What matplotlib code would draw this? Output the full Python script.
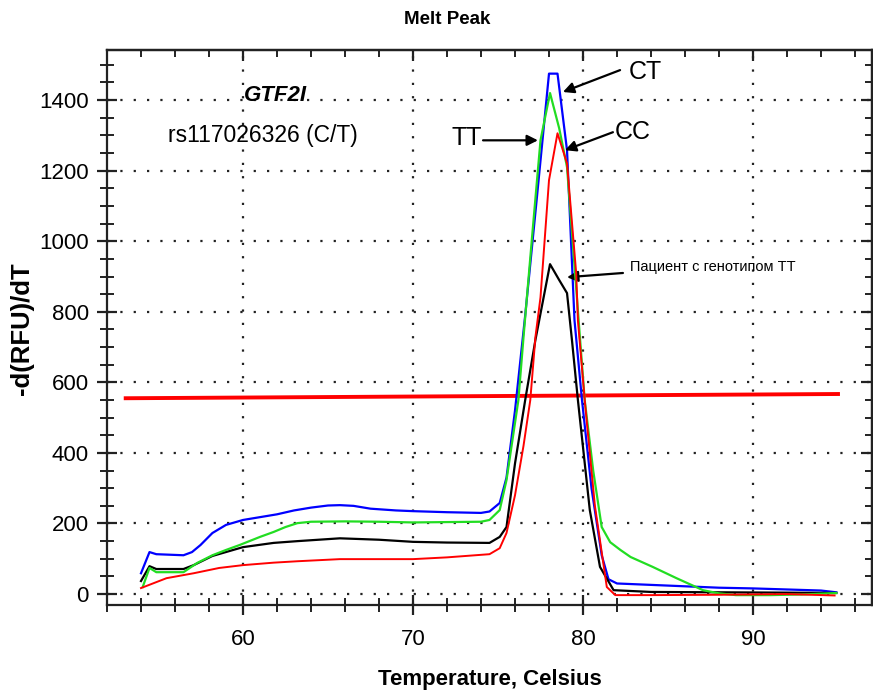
import matplotlib
matplotlib.use("Agg")
import matplotlib.pyplot as plt

plt.rcParams['font.family'] = ['Liberation Sans', 'DejaVu Sans']

# --- data ---
ct_t = [54.0, 54.5, 54.9, 56.5, 57.0, 57.5, 58.2, 59.0, 60.0, 61.0, 62.0, 63.0, 64.0, 65.0, 65.7,
        66.5, 67.5, 69.0, 70.0, 72.0, 74.0, 74.5, 75.1, 75.5, 76.0, 76.6, 77.3, 78.0, 78.5, 79.06,
        79.5, 79.94, 80.5, 81.1, 81.5, 82.0, 84.0, 86.0, 88.0, 90.0, 92.0, 94.0, 94.9]
ct_v = [59, 119, 113, 110, 119, 139, 173, 196, 210, 218, 226, 237, 245, 251, 252,
        250, 242, 237, 235, 232, 230, 234, 258, 330, 520, 790, 1130, 1475, 1475, 1258,
        776, 550, 300, 110, 42, 30, 26, 22, 18, 16, 13, 10, 5]

tt_t = [54.1, 54.5, 54.9, 56.5, 57.3, 58.2, 59.0, 59.8, 61.0, 61.8, 62.5, 63.2, 64.0, 66.0, 68.0,
        70.0, 72.0, 74.0, 74.5, 75.1, 75.5, 76.2, 76.5, 77.0, 77.5, 78.06, 78.6, 79.06, 79.8, 80.1,
        80.6, 81.1, 81.6, 82.2, 82.8, 84.1, 85.5, 87.06, 88.0, 89.0, 91.0, 93.0, 94.9]
tt_v = [20, 74, 62, 62, 88, 110, 125, 139, 162, 176, 190, 201, 205, 206, 205,
        203, 204, 205, 210, 238, 323, 550, 728, 1010, 1286, 1420, 1320, 1210, 740, 550,
        350, 190, 147, 125, 105, 77, 45, 11, 2, -3, -3, -1, 3]

cc_t = [54.0, 55.5, 57.1, 58.6, 60.0, 61.8, 63.2, 65.7, 68.0, 70.0, 72.0, 74.5, 75.1, 75.5, 76.0,
        76.5, 76.9, 77.2, 77.5, 78.0, 78.5, 79.06, 79.6, 79.7, 80.1, 80.7, 81.4, 81.9, 84.0, 88.0,
        92.0, 94.8]
cc_v = [17, 45, 59, 74, 82, 89, 93, 99, 99, 99, 104, 113, 130, 173, 280,
        420, 550, 728, 841, 1173, 1306, 1221, 909, 776, 550, 250, 20, -3, -3, -2,
        0, -4]

pt_t = [54.0, 54.5, 54.9, 56.5, 57.1, 58.2, 60.0, 61.8, 63.2, 65.7, 68.0, 70.0, 72.0, 74.5, 75.1,
        75.5, 76.0, 76.6, 77.2, 78.06, 78.6, 79.06, 79.35, 79.7, 80.4, 81.0, 81.8, 84.0, 88.0, 92.0,
        94.9]
pt_v = [37, 79, 71, 71, 82, 108, 133, 145, 150, 158, 154, 148, 146, 145, 162,
        190, 370, 550, 720, 935, 890, 853, 720, 550, 238, 77, 11, 6, 5, 4,
        3]

threshold_t = [53.1, 95.0]
threshold_v = [555, 567]

x_major = [60, 70, 80, 90]
y_major = [0, 200, 400, 600, 800, 1000, 1200, 1400]

# --- figure ---
fig = plt.figure(figsize=(8.73, 6.92), dpi=100)
ax = fig.add_axes([107 / 873, 87 / 692, 765 / 873, 555 / 692])

ax.plot(ct_t, ct_v, color='#0000FF', lw=1.6, zorder=3)
ax.plot(pt_t, pt_v, color='black', lw=1.6, zorder=3)
ax.plot(tt_t, tt_v, color='#22DD22', lw=1.6, zorder=4)
ax.plot(cc_t, cc_v, color='#FF0000', lw=1.4, zorder=5)
ax.plot(threshold_t, threshold_v, color='#FF0000', lw=2.8, zorder=2)

ax.set_xlim(52, 97)
ax.set_ylim(-31, 1542)
ax.set_xticks(x_major)
ax.set_xticks(range(52, 97, 2), minor=True)
ax.set_yticks(y_major)
ax.set_yticks(range(0, 1541, 50), minor=True)

ax.grid(True, which='major', color='#222222', linestyle=(0, (1, 5)), lw=1.6)

for s in ax.spines.values():
    s.set_linewidth(1.6)
    s.set_color('#222222')

ax.tick_params(axis='both', which='major', direction='inout', length=14, width=1.6,
               labelsize=16, color='#222222', top=False, right=False)
ax.tick_params(axis='both', which='minor', direction='inout', length=10, width=1.4,
               color='#222222', top=False, right=False)
ax.tick_params(axis='x', which='major', pad=10)
ax.tick_params(axis='y', which='major', pad=6)

secx = ax.secondary_xaxis('top')
secx.set_xticks(x_major)
secx.set_xticks(range(52, 97, 2), minor=True)
secx.tick_params(which='major', direction='in', length=8, width=1.6, labeltop=False, color='#222222')
secx.tick_params(which='minor', direction='in', length=5, width=1.4, color='#222222')
secx.set_xticklabels([])
secx.spines['top'].set_linewidth(1.6)

secy = ax.secondary_yaxis('right')
secy.set_yticks(y_major)
secy.set_yticks(range(0, 1541, 50), minor=True)
secy.tick_params(which='major', direction='in', length=8, width=1.6, labelright=False, color='#222222')
secy.tick_params(which='minor', direction='in', length=5, width=1.4, color='#222222')
secy.set_yticklabels([])
secy.spines['right'].set_linewidth(1.6)

# texts
fig.text(447 / 873, 1 - 20 / 692, 'Melt Peak', ha='center', va='center',
         fontsize=13.5, fontweight='bold')
fig.text(490 / 873, 1 - 680 / 692, 'Temperature, Celsius', ha='center', va='center',
         fontsize=16, fontweight='bold')
fig.text(22 / 873, 1 - 329 / 692, '-d(RFU)/dT', ha='center', va='center', rotation=90,
         fontsize=18.5, fontweight='bold')

ax.text(61.88, 1414, 'GTF2I', ha='center', va='center', fontsize=16,
        fontweight='bold', fontstyle='italic')
ax.text(61.18, 1301, 'rs117026326 (C/T)', ha='center', va='center', fontsize=16.5)

arrow = dict(arrowstyle='-|>', color='black', lw=1.6, mutation_scale=16, shrinkA=0, shrinkB=0)
ax.text(83.65, 1479, 'CT', ha='center', va='center', fontsize=18)
ax.annotate('', xy=(78.82, 1423), xytext=(82.18, 1485), arrowprops=arrow)
ax.text(82.94, 1309, 'CC', ha='center', va='center', fontsize=18)
ax.annotate('', xy=(78.94, 1258), xytext=(81.76, 1309), arrowprops=arrow)
ax.text(73.18, 1292, 'TT', ha='center', va='center', fontsize=18)
ax.annotate('', xy=(77.35, 1286), xytext=(74.12, 1286), arrowprops=arrow)
ax.text(82.76, 927, 'Пациент с генотипом ТТ', ha='left', va='center', fontsize=10.5)
ax.annotate('', xy=(79.06, 898), xytext=(82.35, 910), arrowprops=arrow)

fig.savefig('out.png', dpi=100)
